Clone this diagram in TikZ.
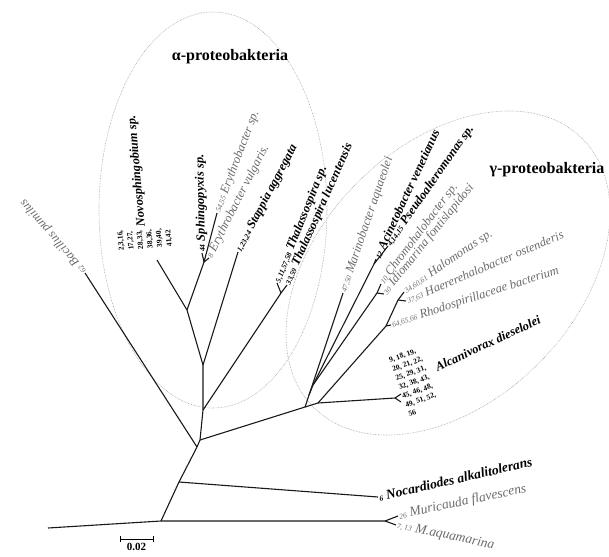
\documentclass[tikz,border=0pt]{standalone}
\usepackage{fontspec}
\setmainfont{Liberation Serif}
\usetikzlibrary{positioning,calc}
\definecolor{fadegray}{gray}{0.42}
\newcommand{\nr}[1]{{\fontsize{7.5}{9}\selectfont #1}}
\tikzset{
fork/.style = {coordinate},
tip/.style  = {coordinate},
branch/.style = {draw, line width=1.1pt, line join=round, black!90},
cladering/.style = {draw=gray!75, densely dotted, line width=0.6pt},
taxon/.style = {anchor=west, inner sep=1pt, font=\fontsize{12.5}{14}\selectfont\itshape},
strain/.style = {taxon, font=\fontsize{12.5}{14}\selectfont\bfseries\itshape},
faded/.style = {taxon, text=fadegray},
bigtaxon/.style = {font=\fontsize{13.5}{15}\selectfont\itshape},
numblock/.style = {inner sep=0pt, align=left, font=\fontsize{7.5}{9.6}\selectfont\bfseries},
cladename/.style = {font=\fontsize{16}{18}\selectfont\bfseries}
}

\begin{document}
\begin{tikzpicture}[x=1pt, y=-1pt]
  \useasboundingbox (0,0) rectangle (609,556);

  % clade rings
  \draw [cladering] (213,210) ellipse [x radius=114pt, y radius=198pt];
  \draw [cladering, rotate around={45:(448,273)}] (448,273) ellipse [x radius=190pt, y radius=128pt];
  \node [cladename] (alpha) at (230,57)  {α-proteobakteria};
  \node [cladename] (gamma) at (547,170) {γ-proteobakteria};

  % inner forks
  \node [fork] (root) at (48,528)  {};
  \node [fork] (b0)   at (161,521) {};
  \node [fork] (m0)   at (385,521) {};
  \node [fork] (n0)   at (179,482) {};
  \node [fork] (r1)   at (197,447) {};
  \node [fork] (r2)   at (200,440) {};
  \node [fork] (a0)   at (203,410) {};
  \node [fork] (a1)   at (203,365) {};
  \node [fork] (s0)   at (187,310) {};
  \node [fork] (s1)   at (204,262) {};
  \node [fork] (t0)   at (281,293) {};
  \node [fork] (g0)   at (305,407) {};
  \node [fork] (g1)   at (318,403) {};
  \node [fork] (g2)   at (309,395) {};
  \node [fork] (g3)   at (313,385) {};
  \node [fork] (ap)   at (374,264) {};
  \node [fork] (ci)   at (377,293) {};
  \node [fork] (h0)   at (386,326) {};
  \node [fork] (h1)   at (398,300) {};
  \node [fork] (alc)  at (395,398) {};

  % tips
  \node [tip] (mu)   at (398,516) {};
  \node [tip] (ma)   at (396,525) {};
  \node [tip] (noc)  at (378,497) {};
  \node [tip] (bac)  at (85,273)  {};
  \node [tip] (novo) at (157,260) {};
  \node [tip] (sph)  at (202,253) {};
  \node [tip] (ev)   at (209,258) {};
  \node [tip] (esp)  at (217,213) {};
  \node [tip] (stap) at (238,252) {};
  \node [tip] (t1)   at (277,283) {};
  \node [tip] (t2)   at (287,285) {};
  \node [tip] (mar)  at (343,293) {};
  \node [tip] (aci)  at (376,259) {};
  \node [tip] (pse)  at (388,246) {};
  \node [tip] (chr)  at (381,284) {};
  \node [tip] (idi)  at (384,294) {};
  \node [tip] (hal)  at (404,292) {};
  \node [tip] (hae)  at (406,301) {};
  \node [tip] (rho)  at (391,325) {};
  \node [tip] (alc1) at (401,394) {};
  \node [tip] (alc2) at (401,402) {};

  % branches
  \draw [branch] (root) -- (b0) -- (m0) -- (mu);
  \draw [branch] (m0) -- (ma);
  \draw [branch] (b0) -- (n0) -- (noc);
  \draw [branch] (n0) -- (r1) -- (bac);
  \draw [branch] (r1) -- (r2) -- (a0) -- (a1) -- (s0) -- (novo);
  \draw [branch] (s0) -- (s1) -- (esp);
  \draw [branch] (s1) -- (sph);
  \draw [branch] (s1) -- (ev);
  \draw [branch] (a1) -- (stap);
  \draw [branch] (a0) -- (t0) -- (t1);
  \draw [branch] (t0) -- (t2);
  \draw [branch] (r2) -- (g0) -- (g2) -- (mar);
  \draw [branch] (g2) -- (g3) -- (ap) -- (aci);
  \draw [branch] (ap) -- (pse);
  \draw [branch] (g3) -- (ci) -- (chr);
  \draw [branch] (ci) -- (idi);
  \draw [branch] (g0) -- (g1) -- (alc) -- (alc1);
  \draw [branch] (alc) -- (alc2);
  \draw [branch] (g1) -- (h0) -- (rho);
  \draw [branch] (h0) -- (h1) -- (hal);
  \draw [branch] (h1) -- (hae);

  % taxa
  \node [faded, rotate=131]  (lbac)  at (bac)  {\nr{62} Bacillus pumilus};
  \node [numblock, anchor=west, rotate=95] (nnovo) at (146,249)
        {2,3,16,\\17,27,\\28,33,\\38,36,\\39,40,\\41,42};
  \node [strain, rotate=95]  (lnovo) at (142,228) {Novosphingobium sp.};
  \node [strain, rotate=91]  (lsph)  at (sph)  {\nr{44} Sphingopyxis sp.};
  \node [faded, rotate=63]   (lev)   at (ev)   {\nr{8} Erythrobacter vulgaris.};
  \node [faded, rotate=69]   (lesp)  at (esp)  {\nr{54,55} Erythrobacter sp.};
  \node [strain, rotate=62]  (lstap) at (stap) {\nr{1,23,24} Stappia aggregata};
  \node [strain, rotate=68]  (lt1)   at (t1)   {\nr{5,11,57,58} Thalassospira sp.};
  \node [strain, rotate=66]  (lt2)   at (t2)   {\nr{33,59} Thalassospira lucentensis};
  \node [faded, rotate=71]   (lmar)  at (mar)  {\nr{47,50} Marinobacter aquaeolei};
  \node [strain, rotate=65]  (laci)  at (aci)  {\nr{12} Acinetobacter venetianus};
  \node [strain, rotate=55]  (lpse)  at (pse)  {\nr{4,14,15} Pseudoalteromonas sp.};
  \node [faded, rotate=53]   (lchr)  at (chr)  {\nr{10} Chromohalobacter sp.};
  \node [faded, rotate=51]   (lidi)  at (idi)  {\nr{30} Idiomarina fontislapidosi};
  \node [faded, rotate=34]   (lhal)  at (hal)  {\nr{34,60,61} Halomonas sp.};
  \node [faded, rotate=23]   (lhae)  at (hae)  {\nr{37,63} Haererehalobacter ostenderis};
  \node [faded, rotate=18]   (lrho)  at (rho)  {\nr{64,65,66} Rhodospirillaceae bacterium};
  \node [numblock, rotate=20] (nalc) at (414,382)
        {9, 18, 19,\\20, 21, 22,\\25, 29, 31,\\32, 38, 43,\\45, 46, 48,\\49, 51, 52,\\56};
  \node [strain, rotate=25]  (lalc)  at (435,368) {Alcanivorax dieselolei};
  \node [strain, bigtaxon, font=\fontsize{13.5}{15}\selectfont\bfseries\itshape, rotate=13]
        (lnoc)  at (noc)  {\nr{6} Nocardiodes alkalitolerans};
  \node [faded, bigtaxon, rotate=12]   (lmu)   at (mu)   {\nr{26} Muricauda flavescens};
  \node [faded, bigtaxon, rotate=-12]  (lma)   at (ma)   {\nr{7, 13} M.aquamarina};

  % scale bar
  \node [fork] (sbl) at (120,539) {};
  \node [fork] (sbr) at (153,539) {};
  \draw [line width=0.8pt] ([yshift=-3pt]sbl) -- ([yshift=3pt]sbl);
  \draw [line width=0.8pt] ([yshift=-3pt]sbr) -- ([yshift=3pt]sbr);
  \draw [line width=0.8pt] (sbl) -- (sbr);
  \node [font=\fontsize{11}{13}\selectfont\bfseries, below=0.5pt of $(sbl)!0.5!(sbr)$] (sbt) {0.02};
\end{tikzpicture}
\end{document}
